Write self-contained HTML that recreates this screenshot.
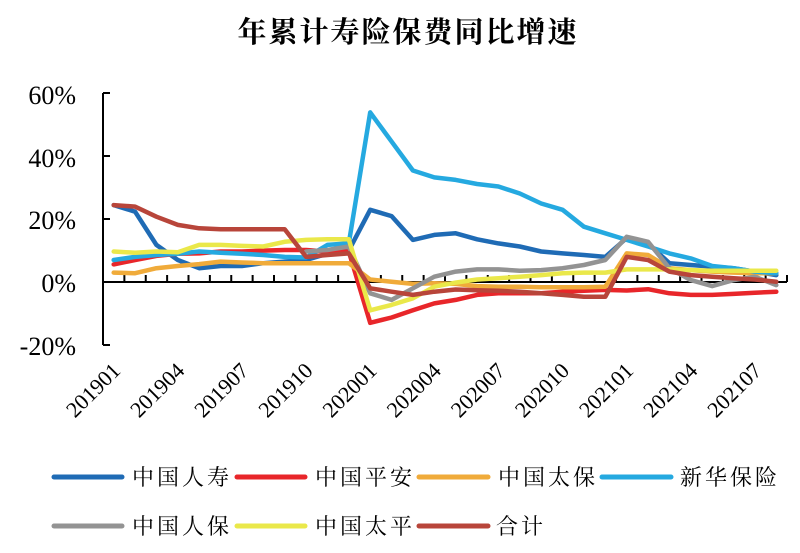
<!DOCTYPE html>
<html><head><meta charset="utf-8"><style>
html,body{margin:0;padding:0;background:#fff;}
svg{display:block;}
</style></head><body>
<svg id="c" width="800" height="553" xmlns="http://www.w3.org/2000/svg">
<rect width="800" height="553" fill="#fff"/>
<text x="408" y="42" text-anchor="middle" font-family="'Liberation Serif','Noto Serif CJK SC',serif" font-weight="bold" font-size="29" letter-spacing="2">年累计寿险保费同比增速</text>
<g font-family="'Liberation Serif',serif" font-size="26" text-anchor="end" fill="#000">
<text x="76" y="104">60%</text>
<text x="76" y="167">40%</text>
<text x="76" y="229">20%</text>
<text x="76" y="292">0%</text>
<text x="76" y="355">-20%</text>
</g>
<g id="axes" stroke="#000" stroke-width="2" fill="none"></g>
<g id="series" fill="none" stroke-width="4.5" stroke-linejoin="round" stroke-linecap="round"></g>
<g id="xl" font-family="'Liberation Serif',serif" font-size="22" text-anchor="end"></g>
<g font-family="'Liberation Serif','Noto Serif CJK SC',serif" font-size="22" letter-spacing="3" fill="#000" stroke-linecap="round">
<line x1="54" y1="477" x2="122" y2="477" stroke="#1f6bb5" stroke-width="5"/><text x="132" y="485">中国人寿</text>
<line x1="237" y1="477" x2="305" y2="477" stroke="#e8262a" stroke-width="5"/><text x="315" y="485">中国平安</text>
<line x1="419" y1="477" x2="488" y2="477" stroke="#f0ab3a" stroke-width="5"/><text x="498" y="485">中国太保</text>
<line x1="602" y1="477" x2="671" y2="477" stroke="#25a9e0" stroke-width="5"/><text x="680" y="485">新华保险</text>
<line x1="54" y1="526" x2="122" y2="526" stroke="#939393" stroke-width="5"/><text x="132" y="534">中国人保</text>
<line x1="237" y1="526" x2="305" y2="526" stroke="#eae84a" stroke-width="5"/><text x="315" y="534">中国太平</text>
<line x1="419" y1="526" x2="488" y2="526" stroke="#b8453a" stroke-width="5"/><text x="496" y="534">合计</text>
</g>
</svg>
<script>
var NS="http://www.w3.org/2000/svg";
var X0=103,W=21.375,Y0=282,S=3.14;
function cx(i){return X0+W*(i+0.5);}
function cy(v){return Y0-v*S;}
var ax=document.getElementById('axes');
function el(p,t,a){var e=document.createElementNS(NS,t);for(var k in a)e.setAttribute(k,a[k]);p.appendChild(e);return e;}
el(ax,'line',{x1:X0,y1:93,x2:X0,y2:345});
[93,156,219,282,345].forEach(function(y){el(ax,'line',{x1:X0,y1:y,x2:X0+7,y2:y});});
el(ax,'line',{x1:X0,y1:Y0,x2:X0+32*W,y2:Y0});
for(var i=0;i<=32;i++){var x=X0+W*i;el(ax,'line',{x1:x,y1:Y0,x2:x,y2:Y0-7});}
var D=[
["#1f6bb5",0,[24.5,22.4,11.8,7,4.4,5.1,5.1,6,6.5,7,9,10,23,21,13.4,15,15.5,13.6,12.3,11.3,9.7,9.1,8.6,8,14,12.3,6,5.4,4.9,4.4,3.3,2.2]],
["#e8262a",0,[5.6,7,8.3,9,9.1,9.7,9.7,10,10.2,10.2,9.7,9.7,-13,-11.3,-9,-6.8,-5.7,-4.1,-3.6,-3.6,-3.6,-3.1,-2.8,-2.5,-2.7,-2.3,-3.6,-4.1,-4.1,-3.8,-3.4,-3.1]],
["#f0ab3a",0,[3,2.8,4.4,5.1,5.7,6.5,6.2,6,6,6,6,6,0.8,0.1,-0.6,-0.4,-0.6,-1.3,-1.5,-1.5,-1.7,-1.7,-1.7,-1.5,9.1,8.6,4.4,3.8,3.3,3,2.8,2.8]],
["#25a9e0",0,[7,8,8.6,9,9.7,9.3,9,8.6,8,7.8,11.8,12.3,54,44.7,35.5,33.3,32.5,31.2,30.4,28.2,25,23,17.6,15.5,13.4,11.3,9.1,7.5,5.1,4.4,3.3,2.8]],
["#939393",9,[9.7,10.2,11.3,-3.6,-5.7,-2,1.7,3.3,4,4,3.6,3.8,4.4,5.4,7,14.4,12.8,4.4,0.6,-1.3,0.6,1.7,-1]],
["#eae84a",0,[9.7,9.3,9.7,9.5,11.8,11.8,11.5,11.3,12.8,13.4,13.6,13.6,-9,-7.3,-5.2,-1.5,-0.2,0.8,1.2,1.7,2.2,2.8,3,3,4,4,4,3.8,3.6,3.6,3.6,3.6]],
["#b8453a",0,[24.5,24,20.8,18.2,17.1,16.8,16.8,16.8,16.8,8,8.6,9.1,-2,-3.1,-4.1,-3.1,-2.4,-2.6,-2.8,-3.1,-3.6,-4.1,-4.7,-4.7,8,7,3.3,2.2,1.7,1.2,0.8,0.1]]
];
var sg=document.getElementById('series');
D.forEach(function(s){var pts=s[2].map(function(v,k){return cx(s[1]+k).toFixed(1)+","+cy(v).toFixed(1);}).join(" ");el(sg,'polyline',{points:pts,stroke:s[0]});});
var labs=["201901","201904","201907","201910","202001","202004","202007","202010","202101","202104","202107"];
var xl=document.getElementById('xl');
labs.forEach(function(l,k){var x=cx(k*3)+8,y=372;var t=el(xl,'text',{x:x,y:y,transform:"rotate(-45 "+x+" "+y+")"});t.textContent=l;});
</script>
</body></html>
